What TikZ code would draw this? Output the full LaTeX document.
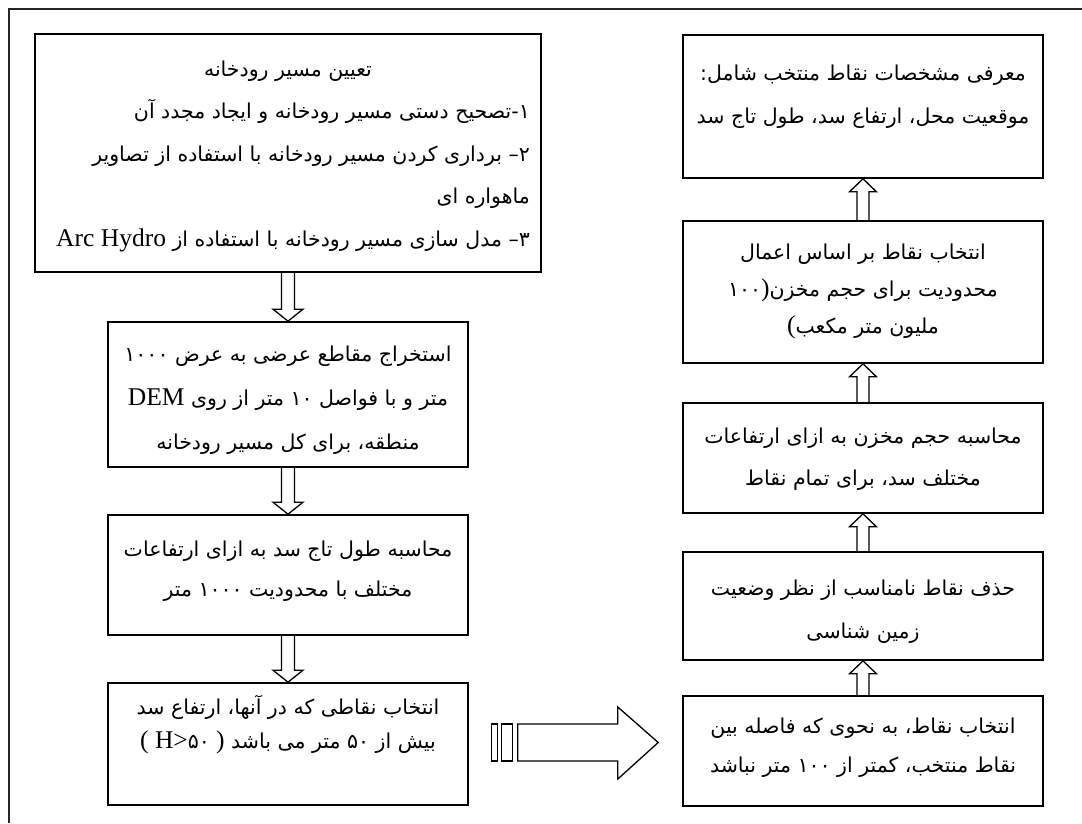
\documentclass[tikz,border=0pt]{standalone}
\usepackage{fontspec}
\setmainfont{Liberation Serif}
\newfontfamily\fafont[Script=Arabic]{DejaVu Sans}
\TeXXeTstate=1
\usetikzlibrary{calc}
\newcommand\lat[1]{{\rmfamily\fontsize{25.5}{28}\selectfont #1}}
\tikzset{
  box/.style={draw, line width=1.6pt, inner sep=0pt},
  txt/.style={inner sep=0pt, font=\fafont\fontsize{20.5}{24}\selectfont},
  barrow/.style={draw, line width=1.3pt, line join=miter},
  frame/.style={draw, line width=2pt, black!85}
}
\newcommand\blockdown[2]{\draw[barrow] ($(#1.south)+(-6.5,0)$) -- ($(#2.north)+(-6.5,-12)$) -- ($(#2.north)+(-15,-12)$) -- (#2.north) -- ($(#2.north)+(15,-12)$) -- ($(#2.north)+(6.5,-12)$) -- ($(#1.south)+(6.5,0)$);}
\newcommand\blockup[2]{\draw[barrow] ($(#1.north)+(-6,0)$) -- ($(#2.south)+(-6,13)$) -- ($(#2.south)+(-13.5,13)$) -- (#2.south) -- ($(#2.south)+(13.5,13)$) -- ($(#2.south)+(6,13)$) -- ($(#1.north)+(6,0)$);}
\begin{document}
\begin{tikzpicture}[x=1pt,y=-1pt]
\useasboundingbox (0,0) rectangle (1082,823);
\draw[frame] (1082,9) -- (9,9) -- (9,823);
% left column boxes
\node[box, minimum width=506pt, minimum height=238pt] (L1) at (288,153) {};
\node[box, minimum width=360pt, minimum height=145pt] (L2) at (288,394.5) {};
\node[box, minimum width=360pt, minimum height=120pt] (L3) at (288,575) {};
\node[box, minimum width=360pt, minimum height=122pt] (L4) at (288,744) {};
% right column boxes
\node[box, minimum width=360pt, minimum height=143pt] (R1) at (863,106.5) {};
\node[box, minimum width=360pt, minimum height=142pt] (R2) at (863,292) {};
\node[box, minimum width=360pt, minimum height=110pt] (R3) at (863,458) {};
\node[box, minimum width=360pt, minimum height=108pt] (R4) at (863,606) {};
\node[box, minimum width=360pt, minimum height=110pt] (R5) at (863,751) {};
% texts L1
\node[txt, anchor=base] (L1a) at (288,76) {\beginR تعیین مسیر رودخانه\endR};
\node[txt, anchor=base east] (L1b) at (530,118) {\beginR ۱-تصحیح دستی مسیر رودخانه و ایجاد مجدد آن\endR};
\node[txt, anchor=base east] (L1c) at (530,161) {\beginR ۲– برداری کردن مسیر رودخانه با استفاده از تصاویر\endR};
\node[txt, anchor=base east] (L1d) at (530,203) {\beginR ماهواره ای\endR};
\node[txt, anchor=base east] (L1e) at (530,246) {\beginR ۳– مدل سازی مسیر رودخانه با استفاده از \beginL\lat{Arc Hydro}\endL\endR};
% texts L2
\node[txt, anchor=base] (L2a) at (288,361) {\beginR استخراج مقاطع عرضی به عرض \beginL۱۰۰۰\endL\endR};
\node[txt, anchor=base] (L2b) at (288,405) {\beginR متر و با فواصل \beginL۱۰\endL{} متر از روی \beginL\lat{DEM}\endL\endR};
\node[txt, anchor=base] (L2c) at (288,449) {\beginR منطقه، برای کل مسیر رودخانه\endR};
% texts L3
\node[txt, anchor=base] (L3a) at (288,556) {\beginR محاسبه طول تاج سد به ازای ارتفاعات\endR};
\node[txt, anchor=base] (L3b) at (288,596) {\beginR مختلف با محدودیت \beginL۱۰۰۰\endL{} متر\endR};
% texts L4
\node[txt, anchor=base] (L4a) at (288,714) {\beginR انتخاب نقاطی که در آنها، ارتفاع سد\endR};
\node[txt, anchor=base] (L4b) at (288,748) {\beginR بیش از \beginL۵۰\endL{} متر  می باشد \beginL\lat{( H>}۵۰\lat{ )}\endL\endR};
% texts R
\node[txt, anchor=base] (R1a) at (863,80) {\beginR معرفی مشخصات نقاط منتخب شامل:\endR};
\node[txt, anchor=base] (R1b) at (863,123) {\beginR موقعیت محل، ارتفاع سد، طول تاج سد\endR};
\node[txt, anchor=base] (R2a) at (863,259) {\beginR انتخاب نقاط بر اساس اعمال\endR};
\node[txt, anchor=base] (R2b) at (863,296) {\beginR محدودیت برای حجم مخزن\beginL۱۰۰\lat{)}\endL\endR};
\node[txt, anchor=base] (R2c) at (863,333) {\beginR ملیون متر مکعب\beginL\lat{(}\endL\endR};
\node[txt, anchor=base] (R3a) at (863,443) {\beginR محاسبه حجم مخزن به ازای ارتفاعات\endR};
\node[txt, anchor=base] (R3b) at (863,485) {\beginR مختلف سد، برای تمام نقاط\endR};
\node[txt, anchor=base] (R4a) at (863,595) {\beginR حذف نقاط نامناسب از نظر وضعیت\endR};
\node[txt, anchor=base] (R4b) at (863,638) {\beginR زمین شناسی\endR};
\node[txt, anchor=base] (R5a) at (863,733) {\beginR انتخاب نقاط، به نحوی که فاصله بین\endR};
\node[txt, anchor=base] (R5b) at (863,772) {\beginR نقاط منتخب، کمتر از \beginL۱۰۰\endL{} متر نباشد\endR};
% arrows
\blockdown{L1}{L2}
\blockdown{L2}{L3}
\blockdown{L3}{L4}
\blockup{R5}{R4}
\blockup{R4}{R3}
\blockup{R3}{R2}
\blockup{R2}{R1}
\draw[barrow] ($(L4.east)+(23,-20)$) rectangle ($(L4.east)+(29,17)$);
\draw[barrow] ($(L4.east)+(33,-20)$) rectangle ($(L4.east)+(44,17)$);
\draw[barrow] ($(L4.east)+(49,-20)$) -- ($(L4.east)+(149,-20)$) -- ($(L4.east)+(149,-37)$) -- ($(R5.west)+(-24,-8.5)$) -- ($(L4.east)+(149,35)$) -- ($(L4.east)+(149,17)$) -- ($(L4.east)+(49,17)$) -- cycle;
\end{tikzpicture}
\end{document}
